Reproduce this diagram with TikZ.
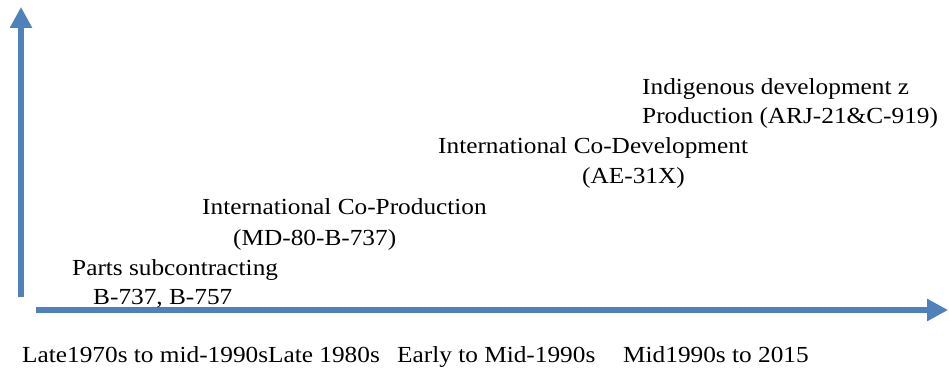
\documentclass[tikz,border=0pt]{standalone}
\usepackage{fontspec}
\setmainfont{Liberation Serif}[FakeStretch=1.1]
\usetikzlibrary{arrows.meta}
\definecolor{axisblue}{HTML}{4F81BD}
\tikzset{
  axis/.style={line width=6pt,axisblue,-{Triangle[width=21pt,length=21pt]}},
  axisshadow/.style={line width=6pt,gray!35,-{Triangle[width=21pt,length=21pt]}},
  lbl/.style={anchor=base west,inner sep=0pt,font=\fontsize{23}{27}\selectfont}
}
\begin{document}
\begin{tikzpicture}[x=1pt,y=1pt]
            \useasboundingbox (0,0) rectangle (949,367);
            \coordinate (vbot) at (21,70);
            \coordinate (vtop) at (21,360);
            \coordinate (hleft) at (36,57);
            \coordinate (hright) at (948,57);
            % shadows first
            \draw [axisshadow,shift={(1,-3)}] (vbot) -- (vtop);
            \draw [axisshadow,shift={(1,-3)}] (hleft) -- (hright);
            \draw [axis] (vbot) -- (vtop);
            \draw [axis] (hleft) -- (hright);
            % stages
            \node [lbl] (parts) at (72,92) {Parts subcontracting};
            \node [lbl] (partsac) at (93,63) {B-737, B-757};
            \node [lbl] (coprod) at (202,153) {International Co-Production};
            \node [lbl] (coprodac) at (233,122) {(MD-80-B-737)};
            \node [lbl] (codev) at (438,213) {International Co-Development};
            \node [lbl] (codevac) at (582,183) {(AE-31X)};
            \node [lbl] (indig) at (642,272) {Indigenous development z};
            \node [lbl] (indigac) at (642,243) {Production (ARJ-21\&C-919)};
            % periods
            \node [lbl] (per1) at (22,5) {Late1970s to mid-1990sLate 1980s};
            \node [lbl] (per2) at (397,5) {Early to Mid-1990s};
            \node [lbl] (per3) at (623,5) {Mid1990s to 2015};
        \end{tikzpicture}
\end{document}
